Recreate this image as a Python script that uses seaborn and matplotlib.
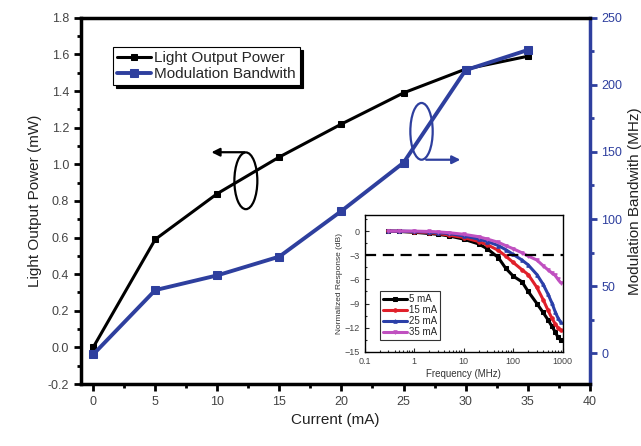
import seaborn as sns
import matplotlib.pyplot as plt
from matplotlib.patches import Ellipse
from matplotlib.ticker import MultipleLocator

# main data
current = [0, 5, 10, 15, 20, 25, 30, 35]
power = [0.0, 0.59, 0.84, 1.04, 1.22, 1.39, 1.52, 1.59]
bandwidth = [-1, 47, 58, 72, 106, 142, 211, 226]

# inset data (normalized response, dB)
freq = [0.3, 0.5, 1, 2, 3, 5, 10, 20, 30, 50, 70, 100, 150, 200, 300, 400, 500, 600, 700, 800, 900]
resp_5 = [0, -0.05, -0.15, -0.3, -0.4, -0.6, -1.0, -1.6, -2.2, -3.3, -4.6, -5.6, -6.3, -7.5, -9.0, -10.1, -11.0, -11.8, -12.5, -13.2, -13.5]
resp_15 = [0, -0.02, -0.1, -0.2, -0.3, -0.5, -0.8, -1.3, -1.7, -2.4, -3.1, -3.9, -4.8, -5.4, -7.0, -8.5, -9.8, -10.8, -11.5, -12.0, -12.3]
resp_25 = [0, 0, -0.05, -0.12, -0.2, -0.3, -0.6, -1.0, -1.3, -1.8, -2.3, -2.9, -3.6, -4.2, -5.4, -6.6, -7.8, -8.9, -10.0, -10.8, -11.3]
resp_35 = [0, 0, 0, -0.05, -0.1, -0.2, -0.4, -0.7, -1.0, -1.4, -1.8, -2.2, -2.7, -3.1, -3.6, -4.3, -4.8, -5.2, -5.5, -6.0, -6.4]
inset_labels = ['5 mA', '15 mA', '25 mA', '35 mA']

sns.set_style('ticks')
plt.rcParams['font.family'] = ['Liberation Sans', 'DejaVu Sans']

BLUE = '#2e3f9e'
fig = plt.figure(figsize=(6.41, 4.46), dpi=100)
ax = fig.add_axes([0.126, 0.139, 0.794, 0.821])
ax2 = ax.twinx()

sns.lineplot(x=current, y=power, ax=ax, color='black', marker='s', markersize=5,
             linewidth=2.2, markeredgecolor='black', label='Light Output Power', legend=False)
sns.lineplot(x=current, y=bandwidth, ax=ax2, color=BLUE, marker='s', markersize=6,
             linewidth=2.8, markeredgecolor=BLUE, label='Modulation Bandwith', legend=False)

ax.set_xlim(-1, 40)
ax.set_ylim(-0.2, 1.8)
ax2.set_ylim(-23, 250)
ax.xaxis.set_major_locator(MultipleLocator(5))
ax.xaxis.set_minor_locator(MultipleLocator(2.5))
ax.yaxis.set_major_locator(MultipleLocator(0.2))
ax.yaxis.set_minor_locator(MultipleLocator(0.1))
ax2.yaxis.set_major_locator(MultipleLocator(50))
ax2.yaxis.set_minor_locator(MultipleLocator(25))
ax.yaxis.set_major_formatter(plt.FormatStrFormatter('%.1f'))

for s in ['left', 'bottom', 'top']:
    ax2.spines[s].set_linewidth(2.5)
    ax2.spines[s].set_color('black')
ax2.spines['right'].set_linewidth(2.5)
ax2.spines['right'].set_color(BLUE)
ax.spines['right'].set_visible(False)
ax.tick_params(which='major', direction='out', length=5, width=2, color='black', labelcolor='#444444', labelsize=9)
ax.tick_params(which='minor', direction='out', length=3, width=2, color='black')
ax2.tick_params(which='major', direction='out', length=5, width=2, color=BLUE, labelcolor=BLUE, labelsize=9)
ax2.tick_params(which='minor', direction='out', length=3, width=2, color=BLUE)

ax.set_xlabel('Current (mA)', fontsize=11, color='#222222')
ax.set_ylabel('Light Output Power (mW)', fontsize=11, color='#222222')
ax2.set_ylabel('Modulation Bandwith (MHz)', fontsize=11, color='#222222')

h1, l1 = ax.get_legend_handles_labels()
h2, l2 = ax2.get_legend_handles_labels()
leg = ax2.legend(h1 + h2, l1 + l2, loc='upper left', bbox_to_anchor=(0.063, 0.921),
                 borderaxespad=0, fontsize=11, frameon=True, fancybox=False,
                 shadow={'color': 'black', 'alpha': 1}, edgecolor='black',
                 handlelength=2.2, handletextpad=0.2, borderpad=0.3, labelspacing=0.1)
leg.get_frame().set_linewidth(0.8)
leg.get_frame().set_alpha(1)

# ellipse + arrow annotations
ax.add_patch(Ellipse((12.3, 0.91), 1.85, 0.31, fill=False, edgecolor='black', linewidth=1.6))
ax.annotate('', xy=(9.3, 1.066), xytext=(12.4, 1.066),
            arrowprops=dict(arrowstyle='-|>', color='black', lw=1.6, mutation_scale=12))
ax.add_patch(Ellipse((26.45, 1.18), 1.8, 0.31, fill=False, edgecolor=BLUE, linewidth=1.6))
ax.annotate('', xy=(29.8, 1.025), xytext=(26.6, 1.025),
            arrowprops=dict(arrowstyle='-|>', color=BLUE, lw=1.6, mutation_scale=12))

# inset
ins = fig.add_axes([0.569, 0.211, 0.309, 0.307])
colors = ['black', '#e0202a', '#2b3fa8', '#c050c0']
markers = ['s', 'o', '^', 'v']
for resp, lab, c, m in zip([resp_5, resp_15, resp_25, resp_35], inset_labels, colors, markers):
    sns.lineplot(x=freq, y=resp, ax=ins, color=c, marker=m, markersize=2.5,
                 markeredgecolor=c, linewidth=2.2, label=lab, legend=False)
ins.axhline(-3, color='black', linestyle=(0, (5, 3)), linewidth=1.6)
ins.set_xscale('log')
ins.set_xlim(0.1, 1000)
ins.set_ylim(-15, 2)
ins.set_yticks([0, -3, -6, -9, -12, -15])
ins.set_xticks([0.1, 1, 10, 100, 1000])
ins.set_xticklabels(['0.1', '1', '10', '100', '1000'])
ins.yaxis.set_minor_locator(MultipleLocator(1.5))
ins.tick_params(which='both', direction='in', labelsize=6.5, labelcolor='#444444', width=0.8)
ins.tick_params(which='major', length=3)
ins.tick_params(which='minor', length=1.5)
for s in ins.spines.values():
    s.set_linewidth(1.0)
    s.set_color('black')
ins.set_xlabel('Frequency (MHz)', fontsize=7, color='#333333', labelpad=2)
ins.set_ylabel('Normalized Response (dB)', fontsize=6, color='#333333', labelpad=1)
ileg = ins.legend(loc='lower left', bbox_to_anchor=(0.076, 0.088), borderaxespad=0,
                  fontsize=7, fancybox=False, edgecolor='black', handlelength=2.5,
                  handletextpad=0.2, borderpad=0.3, labelspacing=0.1)
ileg.get_frame().set_linewidth(0.8)

fig.savefig('out.png', dpi=100)
